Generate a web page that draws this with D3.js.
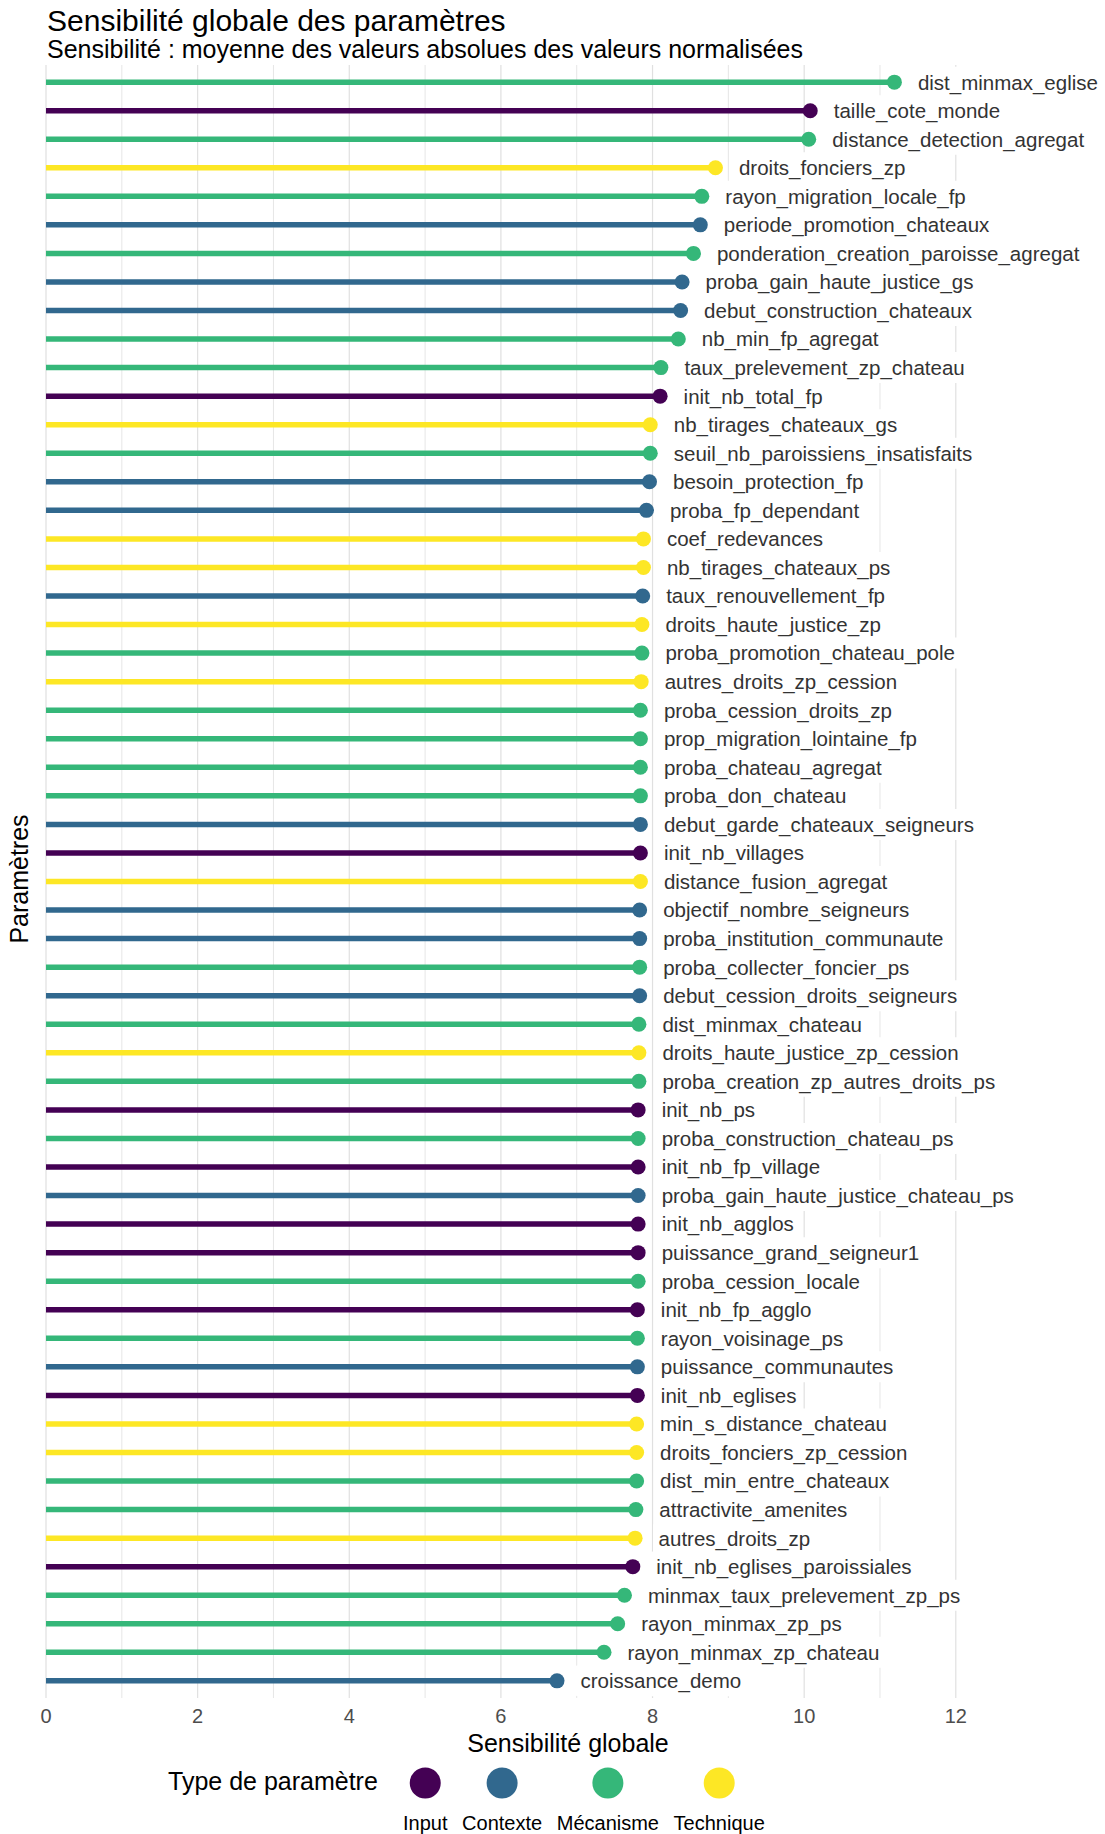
<!DOCTYPE html>
<html><head><meta charset="utf-8">
<script src="https://cdn.jsdelivr.net/npm/d3@7"></script>
<style>body{margin:0;background:#fff;} svg{display:block;font-family:"Liberation Sans",Arial,Helvetica,sans-serif;}</style>
</head><body><svg id="c" width="1105" height="1834"></svg>
<script>
const params = ["dist_minmax_eglise","taille_cote_monde","distance_detection_agregat","droits_fonciers_zp","rayon_migration_locale_fp","periode_promotion_chateaux","ponderation_creation_paroisse_agregat","proba_gain_haute_justice_gs","debut_construction_chateaux","nb_min_fp_agregat","taux_prelevement_zp_chateau","init_nb_total_fp","nb_tirages_chateaux_gs","seuil_nb_paroissiens_insatisfaits","besoin_protection_fp","proba_fp_dependant","coef_redevances","nb_tirages_chateaux_ps","taux_renouvellement_fp","droits_haute_justice_zp","proba_promotion_chateau_pole","autres_droits_zp_cession","proba_cession_droits_zp","prop_migration_lointaine_fp","proba_chateau_agregat","proba_don_chateau","debut_garde_chateaux_seigneurs","init_nb_villages","distance_fusion_agregat","objectif_nombre_seigneurs","proba_institution_communaute","proba_collecter_foncier_ps","debut_cession_droits_seigneurs","dist_minmax_chateau","droits_haute_justice_zp_cession","proba_creation_zp_autres_droits_ps","init_nb_ps","proba_construction_chateau_ps","init_nb_fp_village","proba_gain_haute_justice_chateau_ps","init_nb_agglos","puissance_grand_seigneur1","proba_cession_locale","init_nb_fp_agglo","rayon_voisinage_ps","puissance_communautes","init_nb_eglises","min_s_distance_chateau","droits_fonciers_zp_cession","dist_min_entre_chateaux","attractivite_amenites","autres_droits_zp","init_nb_eglises_paroissiales","minmax_taux_prelevement_zp_ps","rayon_minmax_zp_ps","rayon_minmax_zp_chateau","croissance_demo"];
const values = [11.19,10.08,10.06,8.83,8.65,8.63,8.54,8.39,8.37,8.34,8.11,8.10,7.97,7.97,7.96,7.92,7.88,7.88,7.87,7.86,7.86,7.85,7.84,7.84,7.84,7.84,7.84,7.84,7.84,7.83,7.83,7.83,7.83,7.82,7.82,7.82,7.81,7.81,7.81,7.81,7.81,7.81,7.81,7.80,7.80,7.80,7.80,7.79,7.79,7.79,7.78,7.77,7.74,7.63,7.54,7.36,6.74];
const types = ["Mécanisme","Input","Mécanisme","Technique","Mécanisme","Contexte","Mécanisme","Contexte","Contexte","Mécanisme","Mécanisme","Input","Technique","Mécanisme","Contexte","Contexte","Technique","Technique","Contexte","Technique","Mécanisme","Technique","Mécanisme","Mécanisme","Mécanisme","Mécanisme","Contexte","Input","Technique","Contexte","Contexte","Mécanisme","Contexte","Mécanisme","Technique","Mécanisme","Input","Mécanisme","Input","Contexte","Input","Input","Mécanisme","Input","Mécanisme","Contexte","Input","Technique","Technique","Mécanisme","Mécanisme","Technique","Input","Mécanisme","Mécanisme","Mécanisme","Contexte"];
const typeNames = ["Input","Contexte","Mécanisme","Technique"];
const typeColors = ["#440154","#31688E","#35B779","#FDE725"];
const xTicks = [0,2,4,6,8,10,12];
const xGrid = [0,1,2,3,4,5,6,7,8,9,10,11,12];

const data = params.map((p,i)=>({p, v: values[i], t: types[i]}));
const svg = d3.select("#c");
const panel = {left:46, right:1090, top:65, bottom:1698};

const x = d3.scaleLinear().domain([0,13.77]).range([panel.left, panel.right]);
const y = d3.scalePoint().domain(params).range([panel.top, panel.bottom]).padding(0.6);
const color = d3.scaleOrdinal().domain(typeNames).range(typeColors);

// grid
svg.append("g").selectAll("line").data(xGrid).join("line")
  .attr("x1", d=>x(d)).attr("x2", d=>x(d))
  .attr("y1", panel.top).attr("y2", panel.bottom)
  .attr("stroke", d=> d%2===0 ? "#e0e0e0" : "#e6e6e6")
  .attr("stroke-width", d=> d%2===0 ? 1.2 : 1.0);

// segments
svg.append("g").selectAll("line").data(data).join("line")
  .attr("x1", x(0)).attr("x2", d=>x(d.v))
  .attr("y1", d=>y(d.p)).attr("y2", d=>y(d.p))
  .attr("stroke", d=>color(d.t)).attr("stroke-width", 5.5);

// points
svg.append("g").selectAll("circle").data(data).join("circle")
  .attr("cx", d=>x(d.v)).attr("cy", d=>y(d.p)).attr("r", 7.5)
  .attr("fill", d=>color(d.t));

// labels
const lg = svg.append("g");
const boxes = lg.append("g");
const texts = lg.append("g").selectAll("text").data(data).join("text")
  .attr("x", d=>x(d.v)+23.5).attr("y", d=>y(d.p)).attr("dy","0.36em")
  .attr("font-size", 20.5).attr("fill", "#333333").text(d=>d.p);
texts.each(function(d){
  const w = this.getComputedTextLength();
  boxes.append("rect").attr("x", x(d.v)+23.5-5.5).attr("y", y(d.p)-15.5)
    .attr("width", w+11).attr("height", 31).attr("rx",3).attr("fill","#fff");
});

// x axis tick labels
svg.append("g").selectAll("text").data(xTicks).join("text")
  .attr("x", d=>x(d)).attr("y", 1723).attr("text-anchor","middle")
  .attr("font-size", 20).attr("fill","#4d4d4d").text(d=>d);

// axis titles
svg.append("text").attr("x", (panel.left+panel.right)/2).attr("y", 1752)
  .attr("text-anchor","middle").attr("font-size", 25).attr("fill","#000").text("Sensibilité globale");
svg.append("text").attr("transform","translate(28,879) rotate(-90)")
  .attr("text-anchor","middle").attr("font-size", 25).attr("fill","#000").text("Paramètres");

// title / subtitle
svg.append("text").attr("x", 47).attr("y", 31).attr("font-size", 30).attr("fill","#000")
  .text("Sensibilité globale des paramètres");
svg.append("text").attr("x", 47).attr("y", 58).attr("font-size", 25).attr("fill","#000")
  .text("Sensibilité : moyenne des valeurs absolues des valeurs normalisées");

// legend
const leg = svg.append("g");
leg.append("text").attr("x", 168).attr("y", 1790).attr("font-size", 25).attr("fill","#000").text("Type de paramètre");
let cursor = 403;
typeNames.forEach((n,i)=>{
  const t = leg.append("text").attr("y", 1830).attr("font-size", 20).attr("fill","#000")
    .attr("text-anchor","middle").text(n);
  const w = t.node().getComputedTextLength();
  const cx = cursor + w/2;
  t.attr("x", cx);
  leg.append("circle").attr("cx", cx).attr("cy", 1783).attr("r", 15.5).attr("fill", color(n));
  cursor += w + 14.6;
});
</script></body></html>
